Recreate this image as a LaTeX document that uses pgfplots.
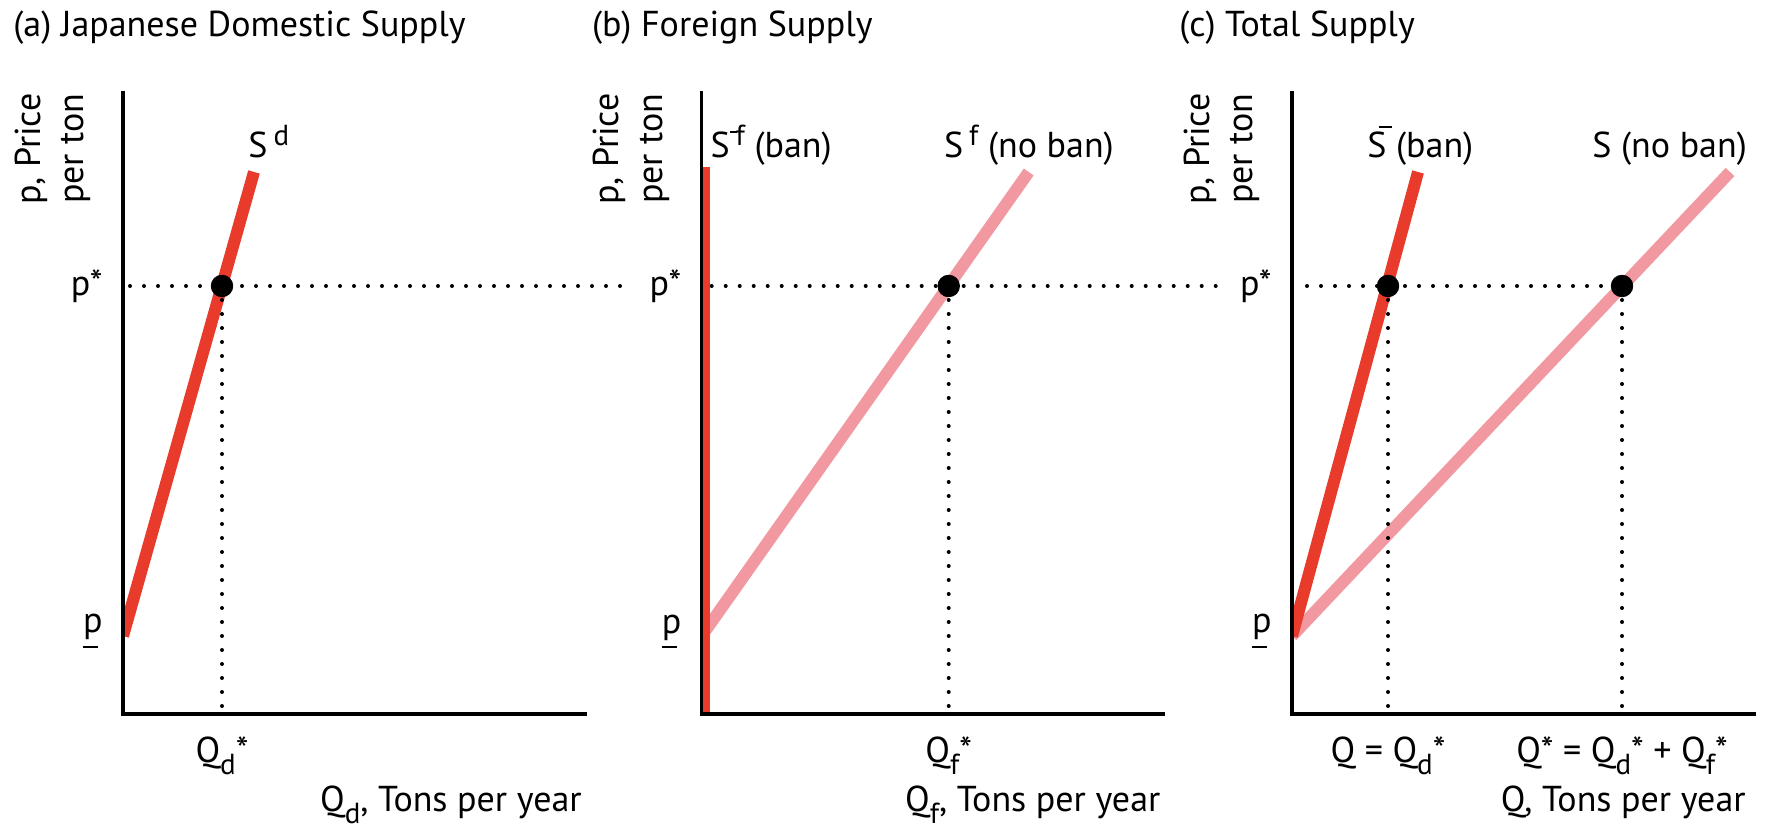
\documentclass[border=0pt]{standalone}
\usepackage{fontspec}
\setmainfont{PT Sans}
\usepackage{pgfplots}
\pgfplotsset{compat=1.18}
\definecolor{sred}{RGB}{232,59,43}
\definecolor{spink}{RGB}{242,152,160}
\newcommand\pbar{\vtop{\hbox{p}\kern3pt\hrule height 1pt width 0.42em}}
\newcommand\sub[1]{\raisebox{-0.34em}{\fontsize{14.5pt}{14.5pt}\selectfont #1}}
\newcommand\sups[1]{\,\raisebox{0.36em}{\fontsize{14.5pt}{14.5pt}\selectfont #1}}
\newcommand\Sbar{S\rlap{\kern-0.21em\raisebox{0.83em}{\rule{0.36em}{0.06em}}}}
\newcommand\Sfbar{S\rlap{\raisebox{0.7em}{\rule{0.2em}{0.06em}}}\sups{f}}
\pgfplotsset{
  panel/.style={scale only axis, width=231pt, height=310.5pt,
    xmin=0, xmax=462, ymin=0, ymax=621, enlargelimits=false, anchor=south west},
  under/.style={panel, hide axis},
  over/.style={panel, clip=false, axis lines=left,
    axis line style={-, line width=1.6pt, black, line cap=rect},
    major tick length=0pt, tick style={draw=none},
    every axis title/.style={at={(axis description cs:0,1)}, anchor=base west, inner sep=0pt},
    title style={xshift=-55pt, yshift=28pt},
    xlabel style={at={(axis description cs:1,0)}, anchor=base east, inner sep=0pt, yshift=-48.5pt},
    ylabel style={at={(axis description cs:-0.0693,1)}, anchor=south east, align=right, inner sep=0pt},
    ylabel={p, Price\\per ton},
    ytick={428}, yticklabels={p*},
    extra y ticks={78}, extra y tick labels={\pbar},
    extra y tick style={yticklabel style={anchor=base east, yshift=1.5pt}},
    yticklabel style={anchor=east, inner sep=0pt, xshift=-10pt},
    xticklabel style={anchor=base, inner sep=0pt, yshift=-24pt}},
  dotline/.style={black, line width=2pt, line cap=round, dash pattern=on 0pt off 7pt},
  eqdot/.style={only marks, mark=*, mark size=5.4pt, black}
}
\begin{document}
\fontsize{18pt}{21.6pt}\selectfont
\begin{tikzpicture}
\useasboundingbox (0,0) rectangle (882.5pt,414.5pt);
% ---------- (a) ----------
\begin{axis}[under, at={(61.5pt,57.5pt)}]
  \addplot[sred, line width=6pt] coordinates {(0,78) (131,542)};
\end{axis}
\begin{axis}[over, at={(61.5pt,57.5pt)},
  title={(a) Japanese Domestic Supply},
  xlabel={Q\sub{d}, Tons per year}, xlabel style={xshift=-1.5pt},
  xtick={99}, xticklabels={Q\sub{d}*}]
  \addplot[dotline] coordinates {(7,428) (507,428)};
  \addplot[dotline] coordinates {(99,428) (99,3)};
  \addplot[eqdot] coordinates {(99,428)};
  \node[anchor=base west, inner sep=0pt] at (axis cs:125,556) {S\sups{d}};
\end{axis}
% ---------- (b) ----------
\begin{axis}[under, at={(350.85pt,57.5pt)}]
  \addplot[spink, line width=6pt] coordinates {(0,78) (327,542)};
  \addplot[sred, line width=3.5pt] coordinates {(5,0) (5,547)};
\end{axis}
\begin{axis}[over, at={(350.85pt,57.5pt)},
  title={(b) Foreign Supply},
  xlabel={Q\sub{f}, Tons per year}, xlabel style={xshift=-1.5pt},
  xtick={247}, xticklabels={Q\sub{f}*}]
  \addplot[dotline] coordinates {(10,428) (515,428)};
  \addplot[dotline] coordinates {(247,428) (247,3)};
  \addplot[eqdot] coordinates {(247,428)};
  \node[anchor=base west, inner sep=0pt] at (axis cs:8.5,556) {\Sfbar\ (ban)};
  \node[anchor=base west, inner sep=0pt] at (axis cs:242,556) {S\sups{f} (no ban)};
\end{axis}
% ---------- (c) ----------
\begin{axis}[under, at={(646pt,57.5pt)}]
  \addplot[spink, line width=6pt] coordinates {(0,78) (438,542)};
  \addplot[sred, line width=6pt] coordinates {(0,78) (126,542)};
\end{axis}
\begin{axis}[over, at={(646pt,57.5pt)},
  title={(c) Total Supply}, title style={xshift=-1.5pt},
  xlabel={Q, Tons per year}, xlabel style={xshift=-4pt},
  xtick={96,330}, xticklabels={Q = Q\sub{d}*, Q* = Q\sub{d}* + Q\sub{f}*}]
  \addplot[dotline] coordinates {(15,428) (330,428)};
  \addplot[dotline] coordinates {(96,428) (96,3)};
  \addplot[dotline] coordinates {(330,428) (330,3)};
  \addplot[eqdot] coordinates {(96,428) (330,428)};
  \node[anchor=base west, inner sep=0pt] at (axis cs:75,556) {\Sbar\ (ban)};
  \node[anchor=base west, inner sep=0pt] at (axis cs:300,556) {S (no ban)};
\end{axis}
\end{tikzpicture}
\end{document}
